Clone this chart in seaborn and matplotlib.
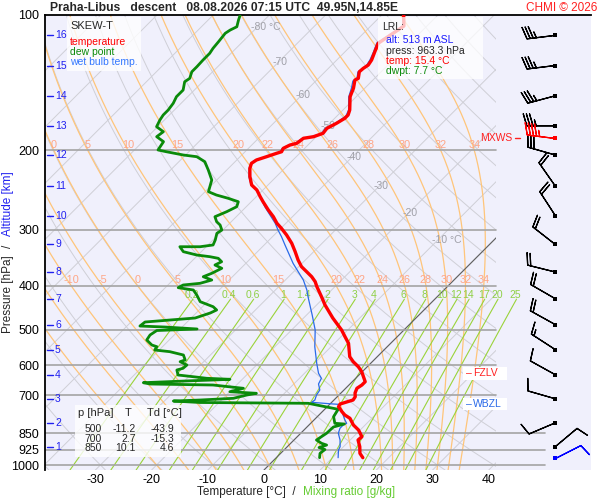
import numpy as np
import matplotlib
matplotlib.use('Agg')
import matplotlib.pyplot as plt
from matplotlib.patches import Rectangle
from matplotlib.ticker import NullLocator
import seaborn as sns

# ---------------------------------------------------------------------------
# sounding data (pressure hPa, temperature degC)
# ---------------------------------------------------------------------------
temp_p = [100, 105.8, 115.6, 120.7, 125.9, 129.2, 131.4, 133.7, 138.3, 139.5,
          145.5, 151.9, 162.6, 166.8, 169.7, 174.1, 178.6, 183.2, 186.4, 187.9,
          192.8, 194.5, 197.8, 201.3, 202.9, 206.5, 210.0, 213.6, 219.1, 228.7,
          238.7, 244.8, 253.4, 260.0, 271.2, 280.7, 290.3, 297.9, 308.2, 321.6,
          335.7, 350.3, 362.5, 371.9, 381.6, 391.4, 401.6, 422.7, 441.0, 471.4,
          501.2, 518.7, 536.5, 555.2, 574.6, 589.4, 604.7, 620.4, 636.5, 653.0,
          664.1, 675.4, 691.8, 705.1, 717.1, 731.9, 742.1, 761.3, 774.3, 787.5,
          814.9, 836.0, 865.2, 879.9, 910.6, 941.9, 963.3]
temp_t = [-56.1, -54.1, -55.6, -54.7, -53.8, -53.5, -53.8, -53.9, -52.9, -53.2,
          -52.0, -51.1, -48.8, -48.2, -48.2, -48.8, -49.6, -49.4, -50.5, -52.0,
          -52.3, -53.2, -53.8, -53.5, -54.1, -55.3, -56.5, -56.8, -56.2, -54.7,
          -52.9, -51.1, -49.3, -47.9, -45.5, -43.4, -41.6, -39.9, -37.8, -35.4,
          -33.3, -31.3, -29.5, -27.7, -25.9, -24.4, -23.2, -20.6, -18.5, -14.8,
          -11.1, -9.3, -7.5, -6.2, -4.9, -3.4, -1.6, -0.1, 1.1, 2.3,
          2.3, 2.0, 2.5, 3.2, 3.4, 1.8, 2.0, 3.5, 4.6, 6.1,
          7.9, 9.7, 11.5, 11.4, 12.9, 14.1, 15.4]

dewp_p = [100, 102.6, 106.2, 108.0, 109.8, 114.6, 118.6, 121.7, 125.9, 130.3,
          133.7, 138.3, 140.7, 146.8, 151.9, 157.1, 162.6, 166.8, 171.1, 177.1,
          181.7, 186.4, 191.2, 196.2, 199.5, 201.3, 204.7, 206.5, 211.8, 221.0,
          232.6, 247.0, 251.2, 255.5, 260.0, 266.7, 273.6, 280.7, 288.0, 292.9,
          300.5, 305.6, 316.2, 324.4, 327.3, 327.3, 335.7, 341.5, 344.4, 347.3,
          353.4, 359.4, 365.5, 375.0, 381.6, 388.1, 394.7, 398.1, 403.6, 408.4,
          419.0, 433.6, 444.9, 452.4, 459.4, 471.4, 476.2, 481.1, 491.1, 493.6,
          498.6, 502.5, 514.2, 527.5, 541.2, 545.9, 555.2, 560.0, 569.6, 584.3,
          589.4, 599.5, 609.7, 615.0, 631.0, 636.5, 641.7, 645.0, 647.3, 649.6,
          656.3, 660.7, 664.1, 675.4, 687.3, 692.9, 699.0, 710.9, 717.1, 720.8,
          726.3, 729.3, 752.0, 781.0, 807.9, 810.8, 823.3, 850.3, 880.0, 895.0,
          902.9, 914.5, 923.9, 941.9, 963.3]
dewp_t = [-85.2, -84.6, -83.7, -84.3, -84.6, -84.3, -84.1, -83.8, -83.8, -83.7,
          -83.7, -82.9, -83.2, -82.0, -82.0, -81.4, -81.1, -81.1, -80.8, -80.2,
          -78.1, -78.4, -76.3, -76.0, -75.8, -74.0, -70.4, -67.7, -65.4, -63.3,
          -60.9, -59.4, -57.4, -54.7, -52.3, -51.7, -52.6, -53.8, -52.6, -51.4,
          -50.2, -50.5, -49.6, -49.1, -51.1, -54.7, -53.2, -50.2, -47.6, -45.8,
          -44.6, -45.2, -43.4, -44.3, -45.2, -43.1, -44.6, -47.3, -47.7, -44.6,
          -43.1, -41.3, -38.1, -36.9, -37.5, -39.3, -43.4, -47.5, -47.7, -43.1,
          -37.0, -43.9, -44.3, -44.0, -42.2, -41.0, -40.8, -37.8, -34.8, -33.6,
          -34.2, -32.4, -32.5, -33.3, -32.2, -29.2, -26.5, -22.2, -25.0, -28.5,
          -37.0, -35.6, -24.2, -18.2, -20.0, -15.0, -16.4, -18.2, -23.8, -28.4,
          -23.4, -4.0, 2.4, 2.9, 4.3, 6.1, 4.7, 4.6, 4.0, 5.5,
          6.7, 5.8, 7.2, 7.0, 7.7]

wetb_p = [100, 105.8, 115.4, 120.8, 125.9, 129.8, 133.9, 138.0, 140.2, 145.3,
          152.1, 162.6, 167.7, 174.2, 178.7, 183.4, 186.4, 188.1, 193.0, 194.5,
          198.0, 201.6, 203.1, 206.8, 210.0, 213.8, 219.3, 229.1, 238.7, 244.8,
          253.4, 266.7, 278.3, 290.3, 300.5, 310.9, 324.4, 344.4, 356.3, 371.9,
          388.1, 408.4, 422.7, 464.2, 501.2, 545.9, 594.3, 625.5, 641.7, 660.7,
          681.3, 699.0, 717.1, 725.6, 731.9, 733.0, 761.3, 794.3, 807.9, 814.9,
          828.8, 850.3, 880.0, 910.6, 926.3, 963.3]
wetb_t = [-56.2, -54.3, -55.9, -54.9, -54.1, -53.7, -54.1, -53.2, -53.4, -52.4,
          -51.3, -49.0, -48.4, -49.0, -49.9, -49.6, -50.8, -52.2, -52.6, -53.4,
          -54.0, -53.7, -54.3, -55.4, -56.7, -56.9, -56.3, -54.8, -53.0, -51.1,
          -49.3, -46.7, -44.3, -41.9, -40.2, -38.4, -36.3, -33.3, -31.6, -29.2,
          -26.8, -24.4, -23.0, -19.0, -15.8, -12.9, -9.6, -7.5, -6.1, -5.6,
          -4.3, -4.0, -3.4, -3.6, 0.6, 1.5, 3.5, 5.5, 6.4, 6.1,
          6.1, 6.7, 8.2, 9.4, 9.7, 11.0]

# altitude marks (km) and the pressure where they sit
alt_km = [1, 2, 3, 4, 5, 6, 7, 8, 9, 10, 11, 12, 13, 14, 15, 16]
alt_p = [910.6, 806.0, 712.5, 630.0, 554.0, 487.5, 427.0, 372.5,
         323.5, 279.0, 239.9, 204.7, 176.3, 151.2, 129.5, 111.0]

# winds at the altitude marks (direction deg, speed kt)
wind_dir = [50, 247, 286, 299, 303, 299, 300, 284, 308, 327, 325, 286, 270, 255, 263, 263]
wind_spd = [10, 10, 10, 10, 15, 20, 20, 20, 20, 20, 20, 30, 35, 35, 35, 35]
sfc_p, sfc_dir, sfc_spd = 963.3, 63, 10
mxws_p, mxws_dir, mxws_spd = 188.0, 277, 45

# small table
tab_p = [500, 700, 850]
tab_t = [-11.2, 2.7, 10.1]
tab_td = [-43.9, -15.3, 4.6]

# diagram lines
iso_p = [100, 200, 300, 400, 500, 600, 700, 850, 925, 1000]
x_ticks = [-30, -20, -10, 0, 10, 20, 30, 40]
isotherm_t = list(range(-130, 41, 10))
dry_theta = list(range(-40, 181, 10))
moist_thw = [-20, -15, -10, -5, 0, 5, 10, 15, 20, 22, 24, 26, 28, 30, 32, 34]
mix_w = [0.2, 0.4, 0.6, 1, 1.4, 2, 3, 4, 6, 8, 10, 12, 14, 17, 20, 25]
mix_lbl = ['0.2', '0.4', '0.6', '1', '1.4', '2', '3', '4', '6', '8',
           '10', '12', '14', '17', '20', '25']
it_lbl_t = [-80, -70, -60, -50, -40, -30, -20, -10]
it_lbl_p = [106.3, 127.2, 150.6, 176.5, 206.8, 239.9, 275.4, 316.2]

P_BOT = 1025.9
SKEW = 80.07          # degC shift per decade of pressure (45 deg skew)
X_MIN, X_MAX = -38.97, 58.19
X_WIND = 51.83


def skew_x(t, p):
    return np.asarray(t, float) + SKEW * np.log10(P_BOT / np.asarray(p, float))


def px_x(x):
    # pixel column -> skewed x coordinate
    return (x - 264) / 5.62


def moist_adiabat(thw, p_levels):
    # pseudo-adiabat through (1000 hPa, thw) integrated with small RK2 steps
    def dtdp(t, p):
        es = 6.112 * np.exp(17.67 * (t - 273.15) / (t - 29.65))
        rs = 0.622 * es / (p - es)
        return (287.04 * t + 2.501e6 * rs) / (
            p * (1005.7 + 2.501e6 ** 2 * rs * 0.622 / (287.04 * t ** 2)))
    out = []
    for target in (p_levels[p_levels <= 1000][::-1], p_levels[p_levels > 1000]):
        t, p = thw + 273.15, 1000.0
        res = []
        for pn in target:
            dp = pn - p
            k1 = dtdp(t, p)
            k2 = dtdp(t + k1 * dp, pn)
            t = t + 0.5 * (k1 + k2) * dp
            p = pn
            res.append(t - 273.15)
        out.append(np.array(res))
    return np.concatenate([out[0][::-1], out[1]])


def mix_td(w, p):
    e = w / 1000.0 * p / (0.622 + w / 1000.0)
    lr = np.log(e / 6.112)
    return 243.5 * lr / (17.67 - lr)


sns.set_theme(style='white')
plt.rcParams['font.family'] = ['Liberation Sans', 'DejaVu Sans']

W, H = 600, 500
fig = plt.figure(figsize=(6, 5), dpi=100)
ax = fig.add_axes([45 / W, 30 / H, 546 / W, 455 / H])
ax.set_facecolor('#f0f0fc')
ax.set_yscale('log')
ax.set_ylim(P_BOT, 100)
ax.set_xlim(X_MIN, X_MAX)

clip = Rectangle((0, 0), 451 / 546, 1, transform=ax.transAxes)

pp = np.geomspace(100, P_BOT, 300)

for t in isotherm_t:
    ln, = ax.plot(skew_x(t, pp), pp, color='#cfcfd6', lw=0.7, zorder=1)
    ln.set_clip_path(clip)
for th in dry_theta:
    tt = (th + 273.15) * (pp / 1000.0) ** 0.2857 - 273.15
    ln, = ax.plot(skew_x(tt, pp), pp, color='#cfcfd6', lw=0.7, zorder=1)
    ln.set_clip_path(clip)

pm_levels = np.concatenate([np.linspace(100, 1000, 451), np.linspace(1002, P_BOT, 13)])
for thw in moist_thw:
    tm = moist_adiabat(thw, pm_levels)
    xm = skew_x(tm, pm_levels)
    ln, = ax.plot(xm, pm_levels, color='#ffc57a', lw=0.9, zorder=1.2)
    ln.set_clip_path(clip)
    for lp, ty in ((200, 194.5), (400, 388.1)):
        xl = np.interp(np.log(lp), np.log(pm_levels), xm)
        if X_MIN + 1 < xl < 41.5:
            ax.text(xl, ty, str(thw), color='#ffa585', fontsize=7.8,
                    ha='center', va='center', zorder=2)

for w, lbl in zip(mix_w, mix_lbl):
    pw = np.geomspace(428, P_BOT, 60)
    ax.plot(skew_x(mix_td(w, pw), pw), pw, color='#9ad33a', lw=0.8, zorder=1.3)
    ax.text(skew_x(mix_td(w, 432), 432), 419, lbl, color='#8fd046',
            fontsize=7.5, ha='center', va='center', zorder=2)

ln, = ax.plot(skew_x(0, pp), pp, color='#606060', lw=0.8, zorder=1.4)
ln.set_clip_path(clip)

for t, p in zip(it_lbl_t, it_lbl_p):
    s = f'{t} °C' if t in (-80, -10) else str(t)
    ax.annotate(s, (skew_x(t, p), p), xytext=(-6, 0), textcoords='offset pixels',
                color='#a0a0a8', fontsize=7.5, ha='left', va='center', zorder=2)

for p in iso_p[1:]:
    xmax = 500 / 546 if p >= 850 else 451 / 546
    ax.axhline(p, xmin=0, xmax=xmax, color='#a4a4a4', lw=1.2, zorder=1.5)

# profiles
sns.lineplot(x=skew_x(wetb_t, wetb_p), y=wetb_p, sort=False, estimator=None,
             color='#2a6ae8', lw=0.9, ax=ax, zorder=3)
sns.lineplot(x=skew_x(dewp_t, dewp_p), y=dewp_p, sort=False, estimator=None,
             color='#0a8a0a', lw=2.0, ax=ax, zorder=3.2)
sns.lineplot(x=skew_x(temp_t, temp_p), y=temp_p, sort=False, estimator=None,
             color='#ff0000', lw=2.4, ax=ax, zorder=3.4)


# winds
def uv(d, s):
    r = np.deg2rad(np.asarray(d, float))
    s = np.asarray(s, float)
    return -s * np.sin(r), -s * np.cos(r)


bs = dict(length=6.4, lw=0.9, sizes=dict(spacing=0.11, height=0.42), zorder=4)
u, v = uv(wind_dir, wind_spd)
ax.barbs(np.full(len(alt_p), X_WIND), alt_p, u, v, color='black', **bs)
u, v = uv([sfc_dir], [sfc_spd])
ax.barbs([X_WIND], [sfc_p], u, v, color='#0000ff', **bs)
u, v = uv([mxws_dir], [mxws_spd])
ax.barbs([X_WIND], [mxws_p], u, v, color='#ff0000', **bs)
ax.scatter([X_WIND] * len(alt_p), alt_p, marker='s', s=8, color='black', zorder=5, lw=0)
ax.scatter([X_WIND], [sfc_p], marker='s', s=8, color='#0000ff', zorder=5, lw=0)
ax.scatter([X_WIND], [mxws_p], marker='s', s=8, color='#ff0000', zorder=5, lw=0)

# altitude marks
ytr = ax.get_yaxis_transform()
for km, p in zip(alt_km, alt_p):
    ax.plot([2 / 546, 8 / 546], [p, p], color='#2020f0', lw=1.0, transform=ytr, zorder=4)
    ax.text(10 / 546, p, str(km), color='#2020f0', fontsize=7.5, ha='left',
            va='center', transform=ytr, zorder=4)

# axes styling
ax.set_yticks(iso_p)
ax.set_yticklabels([str(p) for p in iso_p])
ax.yaxis.set_minor_locator(NullLocator())
ax.set_xticks(x_ticks)
ax.set_xticklabels([str(t) for t in x_ticks])
ax.tick_params(axis='both', length=0, labelsize=9, colors='black')
ax.tick_params(axis='y', pad=4)
ax.tick_params(axis='x', pad=3)
for side in ('bottom', 'right'):
    ax.spines[side].set_visible(False)
for side in ('top', 'left'):
    ax.spines[side].set_color('black')
    ax.spines[side].set_linewidth(1.3)
ax.grid(False)

# level markers on the right
ax.plot([px_x(515), px_x(520)], [mxws_p, mxws_p], color='#ff2020', lw=1.0, zorder=4)
ax.text(px_x(512), mxws_p, 'MXWS', color='#ff2020', fontsize=7.5,
        ha='right', va='center', zorder=4)


def fx(x):
    return x / W


def fy(y):
    return 1 - y / H


def box(x0, y0, x1, y1, alpha=0.8):
    fig.add_artist(Rectangle((fx(x0), fy(y1)), (x1 - x0) / W, (y1 - y0) / H,
                             transform=fig.transFigure, facecolor='white',
                             edgecolor='none', alpha=alpha, zorder=1))


def ftxt(x, y, s, **kw):
    kw.setdefault('va', 'center')
    kw.setdefault('fontsize', 7.5)
    fig.text(fx(x), fy(y), s, **kw)


# title
ftxt(50, 8, 'Praha-Libus   descent   08.08.2026 07:15 UTC  49.95N,14.85E',
     fontsize=8.7, weight='bold')
ftxt(597, 8, 'CHMI © 2026', color='#ff2020', fontsize=8.5, ha='right')

# legend box
box(67, 17, 141, 71)
ftxt(70, 26, 'SKEW-T', fontsize=8)
ftxt(70, 42, 'temperature', color='#ff0000')
ftxt(70, 52, 'dew point', color='#0a8a0a')
ftxt(70, 62, 'wet bulb temp.', color='#3377ff')

# LRL box
box(378, 17, 483, 79, alpha=0.75)
ftxt(382, 27, 'LRL:')
ftxt(386, 40, 'alt: 513 m ASL', color='#1a1aff')
ftxt(386, 51, 'press: 963.3 hPa')
ftxt(386, 61, 'temp: 15.4 °C', color='#ff0000')
ftxt(386, 71, 'dwpt: 7.7 °C', color='#0a8a0a')

# table box
box(75, 405, 181, 457, alpha=0.8)
ftxt(78, 413, 'p [hPa]', fontsize=8)
ftxt(125, 413, 'T', fontsize=8)
ftxt(147, 413, 'Td [°C]', fontsize=8)
for i, (p, t, td) in enumerate(zip(tab_p, tab_t, tab_td)):
    yy = 429 + 9.5 * i
    ftxt(102, yy, str(p), ha='right')
    ftxt(136, yy, f'{t:.1f}', ha='right')
    ftxt(174, yy, f'{td:.1f}', ha='right')

# freezing / wet bulb zero labels
box(463, 367, 507, 380, alpha=1.0)
box(463, 398, 507, 410, alpha=1.0)
ftxt(466, 373, '–', color='#ff2020')
ftxt(473, 373, 'FZLV', color='#ff2020')
ftxt(466, 404, '–', color='#2a6ae8')
ftxt(473, 404, 'WBZL', color='#2a6ae8')

# axis labels
ftxt(197, 492, 'Temperature [°C]  /', fontsize=8.5)
ftxt(303, 492, 'Mixing ratio [g/kg]', fontsize=8.5, color='#66cc33')
ftxt(8, 294, 'Pressure [hPa]', fontsize=8.5, rotation=90, ha='center')
ftxt(8, 246, '/', fontsize=8.5, rotation=90, ha='center')
ftxt(8, 204, 'Altitude [km]', fontsize=8.5, rotation=90, ha='center', color='#2020f0')

plt.savefig('out.png', dpi=100)
